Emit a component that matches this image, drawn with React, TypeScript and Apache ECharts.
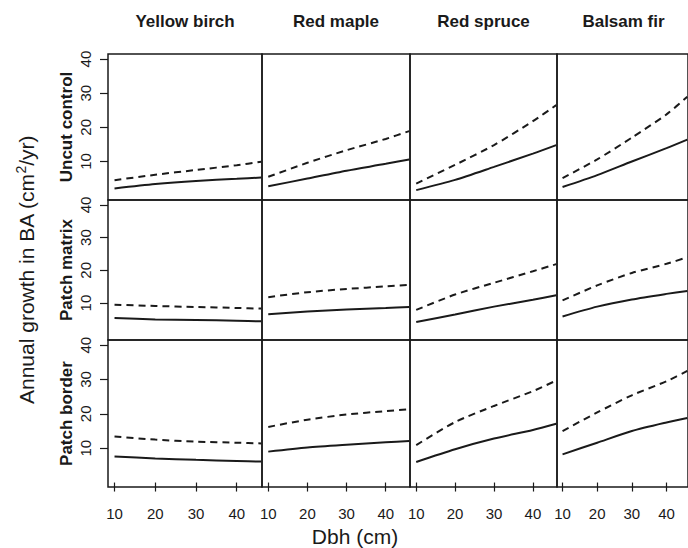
import React, { useEffect, useRef } from "react";
import * as echarts from "echarts";

const species = ["Yellow birch", "Red maple", "Red spruce", "Balsam fir"];
const treatments = ["Uncut control", "Patch matrix", "Patch border"];
const dbh = [10, 20, 30, 40, 46];
const tickValues = [10, 20, 30, 40];

// solid lines (one list per species: Yellow birch, Red maple, Red spruce, Balsam fir)
const uncutSolid = [
  [2.1, 3.4, 4.3, 4.9, 5.3],
  [2.7, 5.0, 7.3, 9.3, 10.6],
  [1.6, 4.6, 8.4, 12.3, 14.8],
  [2.5, 6.0, 10.0, 13.9, 16.4],
];
const uncutDashed = [
  [4.5, 6.1, 7.5, 8.9, 9.9],
  [5.5, 9.6, 13.3, 16.6, 18.9],
  [3.5, 9.0, 14.8, 21.8, 26.5],
  [5.1, 10.6, 17.0, 23.8, 29.0],
];
const matrixSolid = [
  [5.4, 5.0, 4.8, 4.6, 4.4],
  [6.6, 7.4, 8.0, 8.5, 8.8],
  [4.2, 6.5, 8.9, 11.0, 12.4],
  [5.9, 8.9, 11.1, 12.8, 13.7],
];
const matrixDashed = [
  [9.5, 9.1, 8.8, 8.5, 8.3],
  [11.8, 13.3, 14.3, 15.1, 15.6],
  [7.9, 12.6, 16.2, 19.7, 21.9],
  [10.8, 15.4, 19.2, 22.0, 24.0],
];
const borderSolid = [
  [7.6, 7.0, 6.6, 6.3, 6.1],
  [9.0, 10.2, 11.0, 11.7, 12.1],
  [6.0, 9.7, 12.8, 15.3, 17.1],
  [8.2, 11.6, 15.0, 17.5, 18.8],
];
const borderDashed = [
  [13.4, 12.5, 11.9, 11.6, 11.4],
  [16.2, 18.3, 19.8, 20.8, 21.3],
  [10.9, 17.6, 22.3, 26.6, 29.7],
  [15.0, 20.4, 25.4, 29.5, 32.5],
];

const solidByRow = [uncutSolid, matrixSolid, borderSolid];
const dashedByRow = [uncutDashed, matrixDashed, borderDashed];

const colLeft = [108, 262, 410, 557];
const colWidth = [154, 148, 147, 133];
const rowTop = [54, 200, 340];
const rowHeight = [146, 140, 147];

const FONT = "'Liberation Sans', Arial, Helvetica, sans-serif";
const INK = "#1a1a1a";

export default function App() {
  const ref = useRef<HTMLDivElement>(null);

  useEffect(() => {
    if (!ref.current) return;
    const chart = echarts.init(ref.current, null, { renderer: "svg" });

    const grids: any[] = [];
    const xAxes: any[] = [];
    const yAxes: any[] = [];
    const series: any[] = [];
    let idx = 0;
    for (let r = 0; r < 3; r++) {
      for (let c = 0; c < 4; c++) {
        grids.push({
          left: colLeft[c],
          top: rowTop[r],
          width: colWidth[c],
          height: rowHeight[r],
          show: true,
          borderColor: INK,
          borderWidth: 1.5,
          backgroundColor: "transparent",
        });
        const bottom = r === 2;
        const left = c === 0;
        xAxes.push({
          type: "value",
          gridIndex: idx,
          min: 8.4,
          max: 46.2,
          axisLine: { show: false },
          splitLine: { show: false },
          axisTick: {
            show: bottom,
            length: 9,
            customValues: tickValues,
            lineStyle: { color: INK, width: 1.2 },
          },
          axisLabel: {
            show: bottom,
            customValues: tickValues,
            fontSize: 15,
            fontFamily: FONT,
            color: INK,
            margin: 19,
          },
        });
        yAxes.push({
          type: "value",
          gridIndex: idx,
          min: -1.3,
          max: 41.5,
          axisLine: { show: false },
          splitLine: { show: false },
          axisTick: {
            show: left,
            length: 8,
            customValues: tickValues,
            lineStyle: { color: INK, width: 1.2 },
          },
          axisLabel: {
            show: left,
            customValues: tickValues,
            rotate: 90,
            fontSize: 15,
            fontFamily: FONT,
            color: INK,
            margin: 15,
          },
        });
        const solid = solidByRow[r][c];
        const dashed = dashedByRow[r][c];
        series.push({
          type: "line",
          xAxisIndex: idx,
          yAxisIndex: idx,
          data: dbh.map((x, i) => [x, dashed[i]]),
          showSymbol: false,
          smooth: 0.25,
          lineStyle: { color: INK, width: 2, type: [7, 5] },
        });
        series.push({
          type: "line",
          xAxisIndex: idx,
          yAxisIndex: idx,
          data: dbh.map((x, i) => [x, solid[i]]),
          showSymbol: false,
          smooth: 0.25,
          lineStyle: { color: INK, width: 2 },
        });
        idx++;
      }
    }

    const graphics: any[] = [];
    species.forEach((s, c) => {
      graphics.push({
        type: "text",
        x: colLeft[c] + colWidth[c] / 2,
        y: 21,
        style: {
          text: s,
          fontSize: 17,
          fontWeight: "bold",
          fontFamily: FONT,
          fill: INK,
          align: "center",
          verticalAlign: "middle",
        },
      });
    });
    treatments.forEach((t, r) => {
      graphics.push({
        type: "text",
        x: 66,
        y: rowTop[r] + rowHeight[r] / 2,
        rotation: Math.PI / 2,
        style: {
          text: t,
          fontSize: 17,
          fontWeight: "bold",
          fontFamily: FONT,
          fill: INK,
          align: "center",
          verticalAlign: "middle",
        },
      });
    });
    graphics.push({
      type: "text",
      x: 26,
      y: 270,
      rotation: Math.PI / 2,
      style: {
        text: "{a|Annual growth in BA (cm}{s|2}{a|/yr)}",
        fill: INK,
        align: "center",
        verticalAlign: "middle",
        rich: {
          a: { fontSize: 21, fontFamily: FONT, fill: INK, lineHeight: 26 },
          s: { fontSize: 14, fontFamily: FONT, fill: INK, lineHeight: 26, padding: [0, 0, 11, 0] },
        },
      },
    });
    graphics.push({
      type: "text",
      x: 355,
      y: 536,
      style: {
        text: "Dbh (cm)",
        fontSize: 21,
        fontFamily: FONT,
        fill: INK,
        align: "center",
        verticalAlign: "middle",
      },
    });

    chart.setOption({
      animation: false,
      backgroundColor: "#ffffff",
      grid: grids,
      xAxis: xAxes,
      yAxis: yAxes,
      series,
      graphic: graphics,
    });
    return () => chart.dispose();
  }, []);

  return (
    <div
      ref={ref}
      style={{ position: "absolute", left: 0, top: 0, width: 688, height: 548 }}
    />
  );
}
